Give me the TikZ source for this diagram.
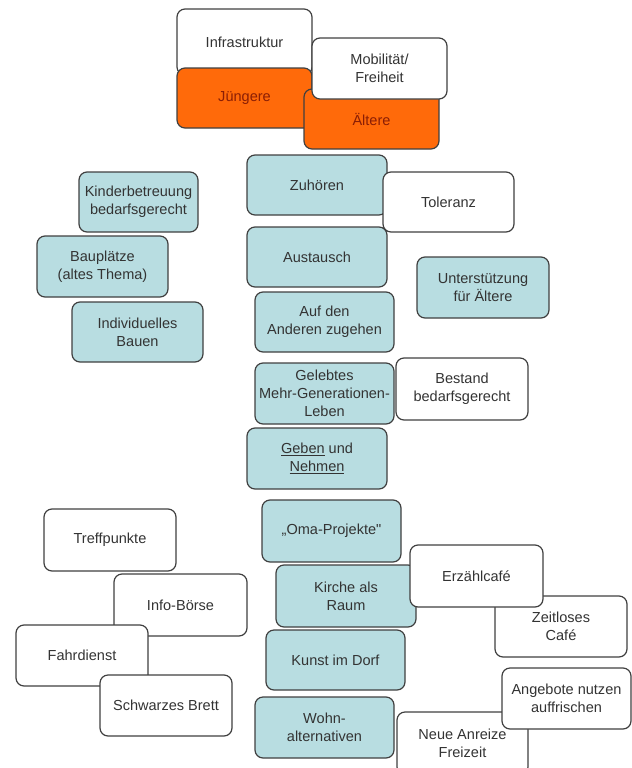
\documentclass[tikz,border=0pt]{standalone}
\usepackage{fontspec}
\setmainfont{Liberation Sans}
\definecolor{lblue}{HTML}{B8DDE1}
\definecolor{orng}{HTML}{FF6A0A}
\definecolor{otxt}{HTML}{8A1E05}
\definecolor{bordergray}{HTML}{404040}
\definecolor{txt}{HTML}{333333}
\newcommand{\fsz}{\fontsize{10.9pt}{13.5pt}\selectfont}
\newcommand{\straightquote}{\XeTeXglyph\XeTeXcharglyph"22\relax}
\tikzset{
 box/.style={draw=bordergray, line width=0.9pt, rounded corners=6pt, align=center, inner sep=0pt, text=txt, font=\fsz},
 wbox/.style={box, fill=white},
 bbox/.style={box, fill=lblue},
 obox/.style={box, fill=orng, text=otxt},
 sz/.style 2 args={minimum width=#1*0.75pt, minimum height=#2*0.75pt},
}
\begin{document}
\begin{tikzpicture}[x=0.75pt,y=-0.75pt]
\useasboundingbox (0,0) rectangle (632,768);
\clip (0,0) rectangle (632,768);
% top
\node[wbox, sz={135}{66}] (infra) at (244.5,42) {Infrastruktur};
\node[obox, sz={135}{60}] (jung) at (244.5,98) {Jüngere};
\node[obox, sz={135}{60}] (aelt) at (371.5,119) {Ältere};
\node[wbox, sz={135}{61}] (mob) at (379.5,68.5) {Mobilität/\\Freiheit};
% left
\node[bbox, sz={119}{60}] (kind) at (138.5,202) {Kinderbetreuung\\bedarfsgerecht};
\node[bbox, sz={131}{61}] (baup) at (102.5,266.5) {Bauplätze\\(altes Thema)};
\node[bbox, sz={131}{60}] (indiv) at (137.5,332) {Individuelles\\Bauen};
% middle
\node[bbox, sz={140}{60}] (zuh) at (317,185) {Zuhören};
\node[wbox, sz={131}{60}] (tol) at (448.5,202) {Toleranz};
\node[bbox, sz={140}{60}] (aust) at (317,257) {Austausch};
\node[bbox, sz={132}{61}] (unt) at (483,287.5) {Unterstützung\\für Ältere};
\node[bbox, sz={139}{60}] (auf) at (324.5,322) {Auf den\\Anderen zugehen};
\node[bbox, sz={139}{61}] (geleb) at (324.5,393.5) {Gelebtes\\Mehr-Generationen-\\Leben};
\node[wbox, sz={132}{62}] (best) at (462,389) {Bestand\\bedarfsgerecht};
\node[bbox, sz={140}{61}] (geben) at (317,458.5) {\underline{Geben} und\\\underline{Nehmen}};
% lower left
\node[wbox, sz={132}{62}] (treff) at (110,540) {Treffpunkte};
\node[wbox, sz={133}{62}] (info) at (180.5,605) {Info-Börse};
\node[wbox, sz={132}{61}] (fahr) at (82,655.5) {Fahrdienst};
\node[wbox, sz={132}{61}] (schw) at (166,705.5) {Schwarzes Brett};
% lower middle/right
\node[bbox, sz={139}{62}] (oma) at (331.5,531) {„Oma-Projekte\straightquote};
\node[bbox, sz={140}{62}] (kirche) at (346,596) {Kirche als\\Raum};
\node[wbox, sz={132}{61}] (zeit) at (561,626.5) {Zeitloses\\Café};
\node[wbox, sz={133}{62}] (erz) at (476.5,576) {Erzählcafé};
\node[bbox, sz={139}{60}] (kunst) at (335.5,660) {Kunst im Dorf};
\node[bbox, sz={139}{61}] (wohn) at (324.5,727.5) {Wohn-\\alternativen};
\node[wbox, sz={131}{63}] (neue) at (462.5,743.5) {Neue Anreize\\Freizeit};
\node[wbox, sz={129}{61}] (ang) at (566.5,698.5) {Angebote nutzen\\auffrischen};
\end{tikzpicture}
\end{document}
